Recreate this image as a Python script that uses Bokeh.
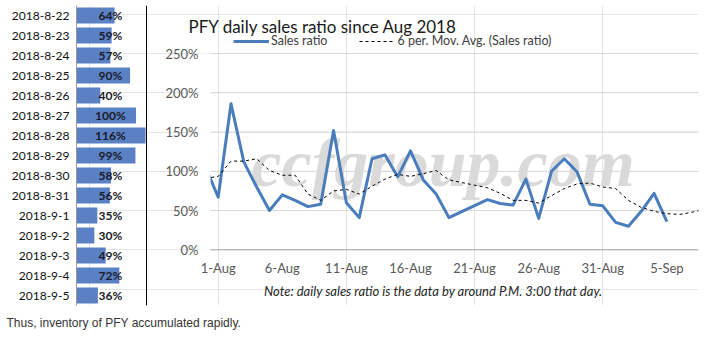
import pandas as pd
from bokeh.plotting import figure
from bokeh.models import (ColumnDataSource, Range1d, Span, Label, Legend, LegendItem,
                          LinearAxis, FixedTicker, Title, BoxAnnotation)
from bokeh.core.properties import value
from bokeh.embed import file_html
from bokeh.resources import INLINE

# ---------------- data ----------------
bar_dates = ["2018-8-22", "2018-8-23", "2018-8-24", "2018-8-25", "2018-8-26",
             "2018-8-27", "2018-8-28", "2018-8-29", "2018-8-30", "2018-8-31",
             "2018-9-1", "2018-9-2", "2018-9-3", "2018-9-4", "2018-9-5"]
bar_values = [64, 59, 57, 90, 40, 100, 116, 99, 58, 56, 35, 30, 49, 72, 36]

sales_dates = ["2018-07-31", "2018-08-01", "2018-08-02", "2018-08-03", "2018-08-04",
               "2018-08-05", "2018-08-06", "2018-08-07", "2018-08-08", "2018-08-09",
               "2018-08-10", "2018-08-11", "2018-08-12", "2018-08-13", "2018-08-14",
               "2018-08-15", "2018-08-16", "2018-08-17", "2018-08-18", "2018-08-19",
               "2018-08-22", "2018-08-23", "2018-08-24", "2018-08-25", "2018-08-26",
               "2018-08-27", "2018-08-28", "2018-08-29", "2018-08-30", "2018-08-31",
               "2018-09-01", "2018-09-02", "2018-09-03", "2018-09-04", "2018-09-05"]
sales_values = [106, 67, 186, 112, 80, 50, 70, 63, 55, 58,
                152, 60, 41, 116, 121, 93, 126, 89, 71, 41,
                64, 59, 57, 90, 40, 100, 116, 99, 58, 56,
                35, 30, 49, 72, 36]

ma_dates = ["2018-07-31", "2018-08-01", "2018-08-02", "2018-08-03", "2018-08-04",
            "2018-08-05", "2018-08-06", "2018-08-07", "2018-08-08", "2018-08-09",
            "2018-08-10", "2018-08-11", "2018-08-12", "2018-08-13", "2018-08-14",
            "2018-08-15", "2018-08-16", "2018-08-17", "2018-08-18", "2018-08-19",
            "2018-08-22", "2018-08-23", "2018-08-24", "2018-08-25", "2018-08-26",
            "2018-08-27", "2018-08-28", "2018-08-29", "2018-08-30", "2018-08-31",
            "2018-09-01", "2018-09-02", "2018-09-03", "2018-09-04", "2018-09-05",
            "2018-09-06", "2018-09-07", "2018-09-08"]
ma_values = [91, 93.5, 113, 113, 116, 101, 95, 95, 71, 63,
             75, 77, 71, 81, 90, 96, 93.5, 97, 101, 89,
             79, 72, 63, 63, 59.5, 69, 78, 84, 85, 80,
             78, 63, 54, 49, 46, 45, 48, 52]

tick_dates = ["2018-08-01", "2018-08-06", "2018-08-11", "2018-08-16",
              "2018-08-21", "2018-08-26", "2018-08-31", "2018-09-05"]
tick_labels = ["1-Aug", "6-Aug", "11-Aug", "16-Aug", "21-Aug", "26-Aug", "31-Aug", "5-Sep"]

y_ticks = [0, 0.5, 1.0, 1.5, 2.0, 2.5]

title_text = "PFY daily sales ratio since Aug 2018"
note_text = "Note: daily sales ratio is the data by around P.M. 3:00 that day."
caption_text = "Thus, inventory of PFY accumulated rapidly."
watermark_text = "ccfgroup.com"

# ---------------- layout constants (pixels) ----------------
W, H = 717, 339
FRAME_L, FRAME_R, FRAME_T, FRAME_B = 76, 698, 5, 305
CHART_L = 210            # left edge of the line-chart area
PX_PER_DAY = 12.82
D_LEFT = -0.6            # day offset at CHART_L
ZERO_Y = 249.3           # pixel row of 0 %
PX_PER_UNIT = 78.5       # pixels per 100 %
BAR_W = 70               # pixel width of the bar panel
BAR_MAX = 117.6          # % value at the bar panel's right edge

origin = pd.Timestamp("2018-08-01")


def day_offsets(dates):
    return [int((pd.Timestamp(d) - origin).days) for d in dates]


def px_to_day(px):
    return D_LEFT + (px - CHART_L) / PX_PER_DAY


def px_to_pct(py):
    return (ZERO_Y - py) / PX_PER_UNIT


x_start, x_end = px_to_day(FRAME_L), px_to_day(FRAME_R)
y_start, y_end = px_to_pct(FRAME_B), px_to_pct(FRAME_T)
bar_end = BAR_MAX * (FRAME_R - FRAME_L) / BAR_W

FONT = "Lato"
BAR_COLOR = "#5a81c4"
LINE_COLOR = "#4a7dbb"

p = figure(width=W, height=H,
           x_range=Range1d(x_start, x_end), y_range=Range1d(y_start, y_end),
           x_axis_location=None, y_axis_location=None,
           min_border_left=FRAME_L, min_border_right=W - FRAME_R,
           min_border_top=FRAME_T, min_border_bottom=H - FRAME_B,
           output_backend="svg", toolbar_location=None)
p.outline_line_color = None
n_rows = len(bar_dates)
p.extra_x_ranges = {"bar": Range1d(0, bar_end)}
p.extra_y_ranges = {"rows": Range1d(n_rows - 0.5, -0.5)}   # first date on top

# ---------------- left bar panel ----------------
row_idx = list(range(n_rows))
bar_src = ColumnDataSource(dict(row=row_idx, val=bar_values,
                                lab=[f"{v}%" for v in bar_values]))
p.hbar(y="row", right="val", left=0, height=0.8, fill_color=BAR_COLOR, line_color=None,
       source=bar_src, x_range_name="bar", y_range_name="rows")
p.text(x=57, y="row", text="lab", source=bar_src, x_range_name="bar", y_range_name="rows",
       text_font=value(FONT), text_font_style="bold", text_font_size="12px",
       text_color="#1a1a2a", text_align="center", text_baseline="middle")
p.add_layout(Span(location=BAR_MAX, dimension="height", x_range_name="bar",
                  line_color="black", line_width=1))

date_axis = LinearAxis(y_range_name="rows", ticker=FixedTicker(ticks=row_idx))
date_axis.major_label_overrides = {i: d for i, d in zip(row_idx, bar_dates)}
date_axis.axis_line_color = "#9a9a9a"
date_axis.major_tick_line_color = None
date_axis.minor_tick_line_color = None
date_axis.major_label_text_font = FONT
date_axis.major_label_text_font_size = "12px"
date_axis.major_label_text_color = "#111111"
date_axis.major_label_standoff = 1
p.add_layout(date_axis, "left")

# ---------------- line chart ----------------
watermark = Label(x=px_to_day(442.5), y=px_to_pct(162), text=watermark_text,
                  text_font="Liberation Serif", text_font_style="bold italic",
                  text_font_size="68px", text_color="#dadada",
                  text_align="center", text_baseline="alphabetic", level="underlay")
p.add_layout(watermark)

grid_vals = [t for t in y_ticks if t > 0]
p.segment(x0=D_LEFT, x1=x_end, y0=grid_vals, y1=grid_vals,
          line_color="#d9d9d9", line_width=1)
p.segment(x0=D_LEFT, x1=x_end, y0=[0], y1=[0], line_color="#a6a6a6", line_width=1)

sales_src = ColumnDataSource(dict(d=day_offsets(sales_dates),
                                  v=[x / 100 for x in sales_values]))
ma_src = ColumnDataSource(dict(d=day_offsets(ma_dates),
                               v=[x / 100 for x in ma_values]))
r_sales = p.line(x="d", y="v", source=sales_src, line_color=LINE_COLOR,
                 line_width=3, line_join="round")
r_ma = p.line(x="d", y="v", source=ma_src, line_color="black",
              line_width=1, line_dash="3 3")

# clip the lines at the chart's left edge
p.add_layout(BoxAnnotation(left=px_to_day(199), right=D_LEFT, bottom=0, top=2.5,
                           fill_color="white", fill_alpha=1, line_color=None))

# y tick labels (percent)
p.text(x=D_LEFT, y=y_ticks, text=[f"{int(round(t * 100))}%" for t in y_ticks],
       x_offset=-12, text_font=value(FONT), text_font_size="13px", text_color="#595959",
       text_align="right", text_baseline="middle")
# x tick labels (dates)
p.text(x=day_offsets(tick_dates), y=0, text=tick_labels, y_offset=18,
       text_font=value(FONT), text_font_size="13px", text_color="#595959",
       text_align="center", text_baseline="middle")

p.add_layout(Label(x=px_to_day(322.5), y=px_to_pct(26), text=title_text,
                   text_font=FONT, text_font_size="17px", text_color="#1a1a1a",
                   text_align="center", text_baseline="alphabetic"))
p.add_layout(Label(x=px_to_day(433), y=px_to_pct(290), text=note_text,
                   text_font=FONT, text_font_style="italic", text_font_size="13px",
                   text_color="#262626", text_align="center", text_baseline="middle"))

legend = Legend(items=[LegendItem(label="Sales ratio", renderers=[r_sales]),
                       LegendItem(label="6 per. Mov. Avg. (Sales ratio)", renderers=[r_ma])],
                orientation="horizontal", location=(233 - FRAME_L, FRAME_B - 48),
                margin=0, padding=0, spacing=32,
                glyph_width=36, glyph_height=14, label_height=14,
                label_standoff=2, label_text_font=FONT, label_text_font_size="12.5px",
                label_text_color="#404040",
                border_line_color=None, background_fill_alpha=0)
p.add_layout(legend)

# caption below the charts
p.add_layout(Title(text=caption_text, align="left", offset=6 - FRAME_L, standoff=16,
                   text_font="Liberation Sans", text_font_style="normal",
                   text_font_size="12px", text_color="#333333"), "below")

open("out.html", "w").write(file_html(p, INLINE))
